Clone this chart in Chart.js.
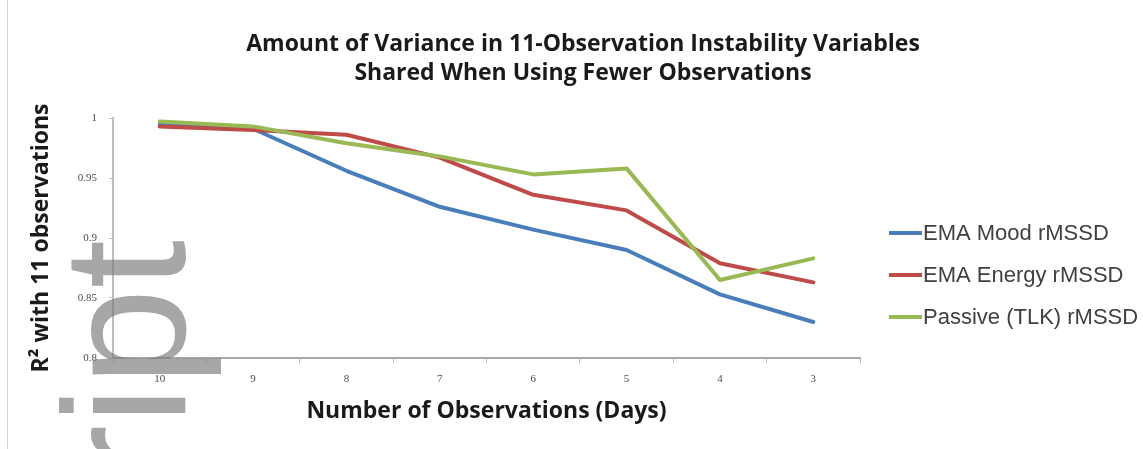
<!DOCTYPE html>
<html>
<head>
<meta charset="utf-8">
<script src="https://cdn.jsdelivr.net/npm/chart.js@4.4.1/dist/chart.umd.min.js"></script>
<style>
  html, body { margin: 0; padding: 0; background: #fff; }
  #wrap { width: 1143px; height: 449px; position: relative; }
</style>
</head>
<body>
<div id="wrap"><canvas id="chart" width="1143" height="449"></canvas></div>
<script>
// Values
const categories = ['10', '9', '8', '7', '6', '5', '4', '3'];
const moodValues = [0.995, 0.991, 0.956, 0.926, 0.907, 0.890, 0.853, 0.830];
const energyValues = [0.993, 0.990, 0.986, 0.967, 0.936, 0.923, 0.879, 0.863];
const passiveValues = [0.997, 0.993, 0.979, 0.968, 0.953, 0.958, 0.865, 0.883];
const seriesNames = ['EMA Mood rMSSD', 'EMA Energy rMSSD', 'Passive (TLK) rMSSD'];
const seriesColors = ['#4a7ebb', '#be4b48', '#98b954'];
const yTickLabels = ['0.8', '0.85', '0.9', '0.95', '1'];
const titleLines = [
    'Amount of Variance in 11-Observation Instability Variables',
    'Shared When Using Fewer Observations'
];
const xTitle = 'Number of Observations (Days)';
const yTitle = 'R\u00B2 with 11 observations';
const watermark = 'ript';

// Title, legend and page decorations drawn on the canvas
const decorPlugin = {
    id: 'decor',
    beforeDraw(chart) {
        const ctx = chart.ctx;
        ctx.save();
        ctx.strokeStyle = '#d4d4d4';
        ctx.lineWidth = 1;
        ctx.beginPath();
        ctx.moveTo(7.5, 0);
        ctx.lineTo(7.5, chart.height);
        ctx.stroke();
        ctx.restore();
    },
    afterDraw(chart) {
        const ctx = chart.ctx;
        ctx.save();

        // Title
        ctx.fillStyle = '#1a1a1a';
        ctx.font = 'bold 23px "Open Sans"';
        ctx.textAlign = 'center';
        ctx.textBaseline = 'middle';
        titleLines.forEach((line, i) => {
            ctx.fillText(line, 583, 44 + i * 29);
        });

        // Legend from the datasets
        ctx.textAlign = 'left';
        ctx.font = '22px "Liberation Sans"';
        chart.data.datasets.forEach((ds, i) => {
            const y = 233 + i * 42;
            ctx.strokeStyle = ds.borderColor;
            ctx.lineWidth = 4;
            ctx.beginPath();
            ctx.moveTo(889, y);
            ctx.lineTo(922, y);
            ctx.stroke();
            ctx.fillStyle = '#404040';
            ctx.fillText(ds.label, 923, y + 1);
        });

        // Grey watermark over the lower left corner
        ctx.translate(185, 483);
        ctx.rotate(-Math.PI / 2);
        ctx.fillStyle = 'rgba(120, 120, 120, 0.65)';
        ctx.font = '175px "Liberation Sans"';
        ctx.textAlign = 'left';
        ctx.textBaseline = 'alphabetic';
        ctx.fillText(watermark, 0, 0);

        ctx.restore();
    }
};

const ctx = document.getElementById('chart').getContext('2d');
new Chart(ctx, {
    type: 'line',
    data: {
        labels: categories,
        datasets: [
            { label: seriesNames[0], data: moodValues, borderColor: seriesColors[0], order: 2 },
            { label: seriesNames[1], data: energyValues, borderColor: seriesColors[1], order: 1 },
            { label: seriesNames[2], data: passiveValues, borderColor: seriesColors[2], order: 0 }
        ]
    },
    options: {
        responsive: false,
        animation: false,
        devicePixelRatio: 1,
        layout: { padding: { left: 24, right: 283, top: 118, bottom: 20 } },
        elements: {
            line: { borderWidth: 4, tension: 0, fill: false, borderCapStyle: 'round', borderJoinStyle: 'round' },
            point: { radius: 0, hoverRadius: 0 }
        },
        plugins: {
            legend: { display: false },
            title: { display: false },
            tooltip: { enabled: false }
        },
        scales: {
            x: {
                offset: true,
                afterFit: scale => { scale.height = 71; },
                grid: { offset: true, drawOnChartArea: false, tickLength: 5, color: '#bfbfbf' },
                border: { color: '#a8a8a8', width: 2 },
                ticks: { color: '#4d4d4d', font: { size: 11, family: 'Liberation Serif' }, padding: 10 },
                title: {
                    display: true,
                    text: xTitle,
                    color: '#1a1a1a',
                    font: { size: 23, weight: 'bold', family: 'Open Sans' },
                    padding: { top: 4, bottom: 4 }
                }
            },
            y: {
                min: 0.8,
                max: 1,
                afterFit: scale => { scale.width = 89; },
                grid: { drawOnChartArea: false, tickLength: 4, color: '#bfbfbf' },
                border: { color: '#bdbdbd', width: 2 },
                ticks: {
                    stepSize: 0.05,
                    color: '#4d4d4d',
                    font: { size: 11, family: 'Liberation Serif' },
                    padding: 12,
                    callback: (value, index) => yTickLabels[index]
                },
                title: {
                    display: true,
                    text: yTitle,
                    color: '#1a1a1a',
                    font: { size: 23, weight: 'bold', family: 'Open Sans' },
                    padding: { top: 4, bottom: 4 }
                }
            }
        }
    },
    plugins: [decorPlugin]
});
</script>
</body>
</html>
